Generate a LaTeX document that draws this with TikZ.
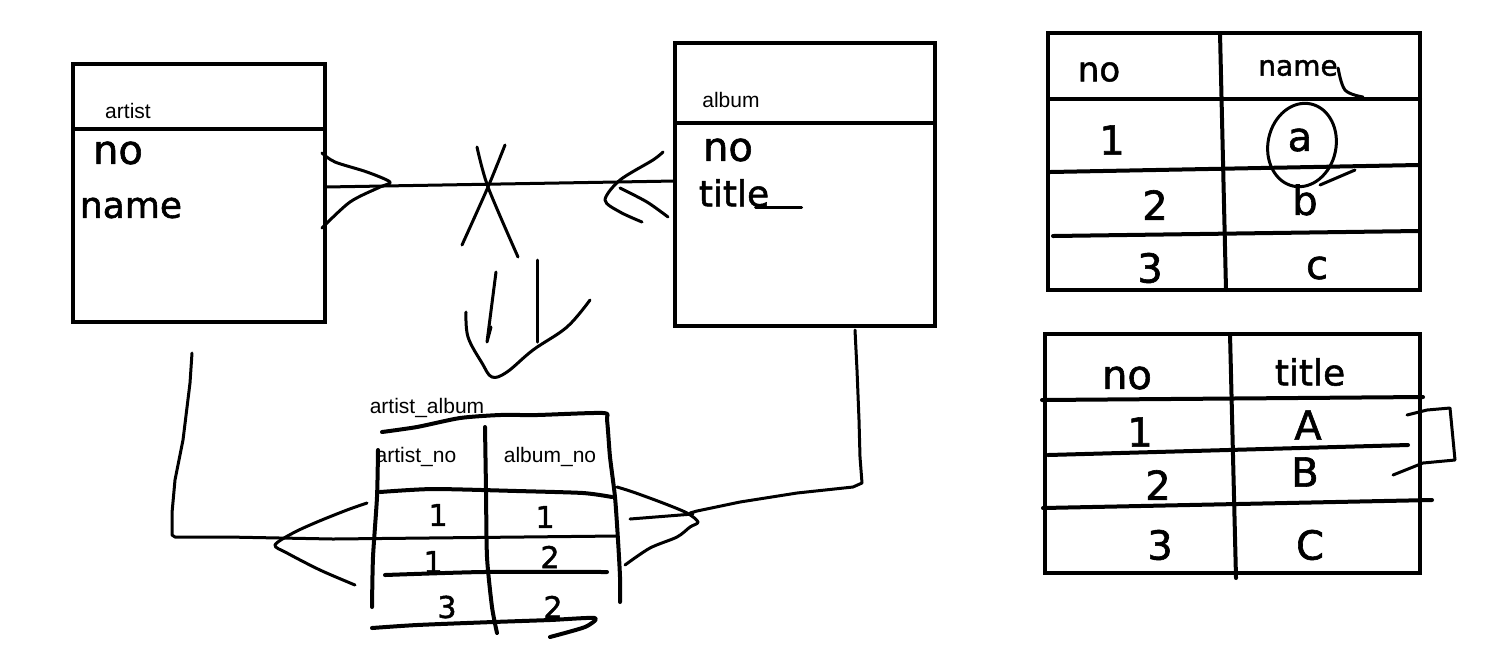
\documentclass[tikz,border=0pt]{standalone}
\usepackage{fontspec}
\setsansfont{Liberation Sans}
\newfontfamily\handfont{DejaVu Sans}[FakeBold=1.5]
\usepackage{tikz}

\begin{document}
\begin{tikzpicture}[x=0.5pt,y=-0.5pt]

  \tikzstyle{entity}=[draw,line width=2pt,inner sep=0,outer sep=0]
  \tikzstyle{rule}=[line width=2pt,line cap=round,line join=round]
  \tikzstyle{pen}=[line width=1.5pt,line cap=round,line join=round]
  \tikzstyle{tag}=[inner sep=0,font=\sffamily\fontsize{10.5}{12}\selectfont]
  \tikzstyle{ink}=[inner sep=0,font=\handfont\fontsize{20}{22}\selectfont]
  \tikzstyle{smallink}=[inner sep=0,font=\handfont\fontsize{15}{17}\selectfont]

  \useasboundingbox (0,0) rectangle (1498,645);

  \path
  (199,193) node[entity,minimum width=126pt,minimum height=129pt](artist){}
  (805,184.5) node[entity,minimum width=130pt,minimum height=141.5pt](album){}
  (1234,161.5) node[entity,minimum width=186pt,minimum height=128.5pt](names){}
  (1232.5,453.5) node[entity,minimum width=187.5pt,minimum height=119.5pt](titles){};

  \draw[rule,line cap=butt] (artist.west |- 0,129) -- (artist.east |- 0,129);
  \draw[rule,line cap=butt] (album.west |- 0,123) -- (album.east |- 0,123);

  \path
  (128,111) node[tag](artistlbl){artist}
  (731,100) node[tag](albumlbl){album}
  (427,408) node[tag](linklbl){artist\_album}
  (416,457) node[tag](artnolbl){artist\_no}
  (550,457) node[tag](albnolbl){album\_no};

  \path
  (118,153) node[ink](artno){no}
  (131,208) node[ink,font=\handfont\fontsize{18}{20}\selectfont](artname){name}
  (728,150) node[ink](albno){no}
  (734,193) node[ink,font=\handfont\fontsize{18}{20}\selectfont](albtitle){title};
  \draw[pen] ([xshift=-7pt]albtitle.south east) -- ++(46,0);

  % relationship
  \draw[pen] ([yshift=3pt]artist.east) -- ([yshift=1.75pt]album.west);
  \draw[pen] plot[smooth,tension=0.5] coordinates
    {(322,153) (335,162) (367,172) (390,182) (380,187) (350,202) (322,228)};
  \draw[pen] plot[smooth,tension=0.5] coordinates
    {(663,152) (653,160) (620,180) (605,200) (620,212) (642,222)};
  \draw[pen] plot[smooth,tension=0.5] coordinates {(668,217) (647,202) (620,188)};
  \draw[pen] plot[smooth,tension=0.5] coordinates {(477,147) (488,187) (518,257)};
  \draw[pen] plot[smooth,tension=0.5] coordinates {(505,145) (488,187) (462,245)};

  \draw[pen] (496,272) -- (487,342) -- (491,327);
  \draw[pen] (537,260) -- (537,342);
  \draw[pen] plot[smooth,tension=0.6] coordinates
    {(466,312) (468,337) (482,363) (492,377) (507,372) (533,350) (567,327) (590,300)};

  % artist_album
  \coordinate (artfoot) at (192,353);
  \coordinate (albfoot) at (855,330);

  \draw[rule] plot[smooth,tension=0.4] coordinates
    {(382,432) (417,427) (460,418) (500,415) (537,415) (603,413) (607,420)
     (610,457) (615,497) (618,540) (620,577) (620,602)};
  \draw[rule] plot[smooth,tension=0.4] coordinates {(378,450) (377,497) (373,557) (372,607)};
  \draw[rule] plot[smooth,tension=0.4] coordinates {(485,427) (486,490) (487,557) (492,607) (497,633)};
  \draw[rule] plot[smooth,tension=0.4] coordinates {(380,492) (433,489) (517,491) (583,493) (612,497)};
  \draw[rule] plot[smooth,tension=0.4] coordinates {(385,575) (483,572) (607,572)};
  \draw[rule] plot[smooth,tension=0.4] coordinates
    {(372,628) (417,625) (493,622) (550,620) (595,618) (585,627) (550,637)};

  \path
  (438,515) node[smallink](c11){1}
  (545,517) node[smallink](c12){1}
  (433,562) node[smallink](c21){1}
  (550,557) node[smallink](c22){2}
  (447,607) node[smallink](c31){3}
  (553,607) node[smallink](c32){2};

  \draw[pen] (artfoot) -- (190,383) -- (183,440) -- (175,480) -- (172,513) -- (172,535)
    -- (175,537) -- (227,537) -- (333,539) -- (617,536);
  \draw[pen] plot[smooth,tension=0.5] coordinates
    {(367,503) (347,510) (317,522) (293,533) (275,545) (287,553) (320,570) (355,585)};

  \draw[pen] (albfoot) -- (857,370) -- (859,420) -- (860,457) -- (862,483) -- (853,487)
    -- (797,493) -- (740,502) -- (697,511) -- (690,513);
  \draw[pen] plot[smooth,tension=0.5] coordinates
    {(617,487) (633,492) (663,503) (687,513) (698,522) (690,527) (677,537) (650,548) (625,565)};
  \draw[pen] (630,519) -- (693,514);

  % artist rows
  \draw[rule] (1220,33) -- (1226,290);
  \draw[rule] (1048,99) -- (1420,99);
  \draw[rule] (1050,172) -- (1418,165);
  \draw[rule] (1053,236) -- (1418,231);

  \path
  (1099,72) node[ink,font=\handfont\fontsize{17}{19}\selectfont](nhead){no}
  (1298,68) node[ink,font=\handfont\fontsize{14}{16}\selectfont](mhead){name}
  (1112,140) node[ink](n1){1}
  (1300,140) node[ink](m1){a}
  (1155,205) node[ink](n2){2}
  (1305,200) node[ink](m2){b}
  (1150,268) node[ink](n3){3}
  (1317,268) node[ink](m3){c};
  \draw[pen] plot[smooth,tension=0.6] coordinates {(mhead.east) (1345,90) (1363,97)};
  \draw[pen] (1302,145) ellipse [x radius=34, y radius=42, rotate=-12];
  \draw[pen] (1320,185) -- (1355,170);

  % album rows
  \draw[rule] (1230,334) -- (1236,578);
  \draw[rule] (1042,400) -- (1423,397);
  \draw[rule] (1048,455) -- (1408,445);
  \draw[rule] (1043,508) -- (1432,500);
  \draw[pen] (1407,415) -- (1427,410) -- (1450,408) -- (1455,460) -- (1423,463) -- (1393,475);

  \path
  (1127,378) node[ink](thead){no}
  (1310,372) node[ink,font=\handfont\fontsize{18}{20}\selectfont](uhead){title}
  (1140,432) node[ink](t1){1}
  (1308,425) node[ink](u1){A}
  (1158,485) node[ink](t2){2}
  (1305,472) node[ink](u2){B}
  (1160,545) node[ink](t3){3}
  (1310,545) node[ink](u3){C};
\end{tikzpicture}
\end{document}
